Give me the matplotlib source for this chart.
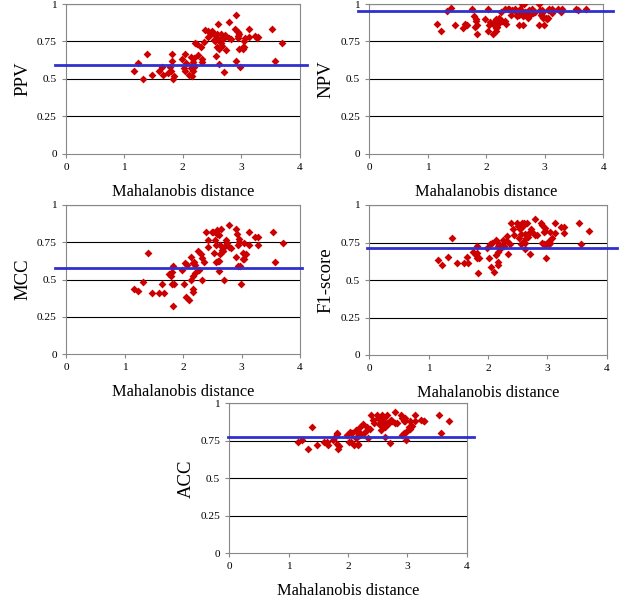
import numpy as np
import matplotlib.pyplot as plt

plt.rcParams["font.family"] = ["Liberation Serif", "DejaVu Serif"]

# Mahalanobis distance per sample (shared by all panels)
dist = [1.16, 1.225, 1.32, 1.396, 1.47, 1.595, 1.64, 1.67, 1.755, 1.79,
        1.807, 1.823, 1.835, 1.846, 1.82, 1.983, 2.023, 2.034, 2.046, 2.063,
        2.108, 2.137, 2.14, 2.165, 2.168, 2.17, 2.19, 2.21, 2.2, 2.175,
        2.251, 2.268, 2.313, 2.325, 2.33, 2.365, 2.387, 2.427, 2.433, 2.49,
        2.507, 2.53, 2.547, 2.558, 2.564, 2.587, 2.59, 2.581, 2.62, 2.621,
        2.608, 2.65, 2.64, 2.66, 2.68, 2.70, 2.63, 2.707, 2.73, 2.746,
        2.786, 2.79, 2.826, 2.9, 2.917, 2.906, 2.94, 2.946, 2.96, 2.955,
        2.97, 2.985, 3.026, 3.03, 3.047, 3.05, 3.07, 3.127, 3.13, 3.23,
        3.288, 3.276, 3.533, 3.573, 3.704]

ppv = [0.55, 0.607, 0.502, 0.669, 0.525, 0.555, 0.577, 0.525, 0.538, 0.58,
       0.55, 0.669, 0.50, 0.522, 0.622, 0.633, 0.571, 0.669, 0.555, 0.605,
       0.526, 0.649, 0.575, 0.52, 0.555, 0.613, 0.582, 0.742, 0.64, 0.60,
       0.733, 0.66, 0.711, 0.615, 0.633, 0.746, 0.826, 0.822, 0.778, 0.80,
       0.82, 0.76, 0.79, 0.75, 0.654, 0.77, 0.711, 0.80, 0.70, 0.60,
       0.87, 0.80, 0.75, 0.74, 0.72, 0.77, 0.76, 0.545, 0.79, 0.69,
       0.877, 0.77, 0.768, 0.833, 0.926, 0.622, 0.813, 0.789, 0.80, 0.77,
       0.70, 0.582, 0.711, 0.70, 0.716, 0.751, 0.77, 0.833, 0.778, 0.789,
       0.78, 0.775, 0.833, 0.618, 0.737]

npv = [0.867, 0.822, 0.955, 0.971, 0.86, 0.842, 0.87, 0.86, 0.964, 0.92,
       0.85, 0.89, 0.80, 0.86, 0.90, 0.90, 0.82, 0.964, 0.86, 0.88,
       0.80, 0.88, 0.86, 0.82, 0.84, 0.90, 0.88, 0.91, 0.87, 0.85,
       0.95, 0.89, 0.97, 0.89, 0.87, 0.97, 0.97, 0.93, 0.96, 0.97,
       0.95, 0.92, 0.94, 0.93, 0.86, 0.96, 0.94, 0.97, 0.92, 0.86,
       1.0, 1.0, 0.93, 0.95, 0.94, 0.95, 0.94, 0.91, 0.96, 0.93,
       0.97, 0.94, 0.95, 1.0, 0.96, 0.86, 0.93, 0.92, 0.96, 0.94,
       0.91, 0.86, 0.91, 0.90, 0.91, 0.96, 0.97, 0.97, 0.94, 0.97,
       0.97, 0.95, 0.97, 0.96, 0.97]

mcc = [0.44, 0.424, 0.486, 0.681, 0.41, 0.41, 0.471, 0.41, 0.538, 0.525,
       0.471, 0.591, 0.321, 0.471, 0.55, 0.562, 0.471, 0.614, 0.386, 0.597,
       0.364, 0.654, 0.50, 0.437, 0.417, 0.609, 0.62, 0.60, 0.542, 0.525,
       0.692, 0.564, 0.67, 0.645, 0.50, 0.616, 0.821, 0.768, 0.717, 0.821,
       0.821, 0.676, 0.768, 0.73, 0.616, 0.805, 0.625, 0.832, 0.625, 0.56,
       0.80, 0.836, 0.67, 0.70, 0.69, 0.72, 0.73, 0.50, 0.768, 0.744,
       0.866, 0.72, 0.71, 0.836, 0.805, 0.654, 0.73, 0.589, 0.77, 0.75,
       0.589, 0.473, 0.676, 0.636, 0.638, 0.744, 0.672, 0.821, 0.731, 0.784,
       0.784, 0.731, 0.821, 0.619, 0.747]

f1 = [0.631, 0.602, 0.656, 0.782, 0.613, 0.611, 0.651, 0.613, 0.684, 0.667,
      0.65, 0.727, 0.549, 0.65, 0.68, 0.711, 0.649, 0.738, 0.584, 0.744,
      0.553, 0.766, 0.67, 0.60, 0.62, 0.73, 0.74, 0.72, 0.71, 0.69,
      0.77, 0.73, 0.793, 0.76, 0.673, 0.742, 0.878, 0.84, 0.80, 0.878,
      0.86, 0.78, 0.84, 0.81, 0.74, 0.86, 0.755, 0.88, 0.75, 0.704,
      0.88, 0.88, 0.78, 0.80, 0.79, 0.82, 0.81, 0.671, 0.84, 0.82,
      0.904, 0.80, 0.80, 0.88, 0.87, 0.744, 0.82, 0.738, 0.85, 0.83,
      0.74, 0.649, 0.76, 0.742, 0.75, 0.82, 0.78, 0.878, 0.816, 0.851,
      0.851, 0.816, 0.878, 0.74, 0.827]

acc = [0.74, 0.757, 0.697, 0.84, 0.72, 0.74, 0.745, 0.72, 0.757, 0.78,
       0.73, 0.80, 0.697, 0.715, 0.795, 0.79, 0.745, 0.81, 0.74, 0.80,
       0.725, 0.82, 0.77, 0.72, 0.73, 0.80, 0.81, 0.84, 0.79, 0.78,
       0.86, 0.80, 0.84, 0.82, 0.77, 0.83, 0.924, 0.89, 0.87, 0.92,
       0.90, 0.86, 0.89, 0.87, 0.82, 0.90, 0.84, 0.92, 0.84, 0.773,
       0.90, 0.92, 0.86, 0.87, 0.86, 0.88, 0.87, 0.735, 0.89, 0.88,
       0.942, 0.87, 0.87, 0.92, 0.90, 0.79, 0.88, 0.80, 0.90, 0.88,
       0.81, 0.757, 0.84, 0.83, 0.83, 0.88, 0.85, 0.924, 0.88, 0.89,
       0.885, 0.88, 0.924, 0.80, 0.88]

# mean value (blue line) per metric
means = {"PPV": 0.594, "NPV": 0.951, "MCC": 0.578, "F1-score": 0.711, "ACC": 0.773}

W, H = 624, 603
fig = plt.figure(figsize=(W / 100, H / 100), dpi=100)

# axes boxes in pixels: left, right, top, bottom ; plus blue line extent in axes fraction
panels = [
    ("PPV", ppv, (66, 299.5, 4, 154), (-0.047, 1.032)),
    ("NPV", npv, (369.3, 603.3, 4, 154), (-0.05, 1.04)),
    ("MCC", mcc, (66, 300, 205, 354.3), (-0.047, 1.009)),
    ("F1-score", f1, (369.3, 606.7, 205, 355), (-0.01, 1.045)),
    ("ACC", acc, (229.3, 466.7, 403.3, 553.3), (-0.005, 1.03)),
]

for name, vals, (l, r, t, b), (x0, x1) in panels:
    ax = fig.add_axes([l / W, (H - b) / H, (r - l) / W, (b - t) / H])
    ax.set_xlim(0, 4)
    ax.set_ylim(0, 1)
    ax.set_xticks([0, 1, 2, 3, 4])
    ax.set_yticks([0, 0.25, 0.5, 0.75, 1])
    ax.set_yticklabels(["0", "0.25", "0.5", "0.75", "1"])
    for y in [0.25, 0.5, 0.75, 1.0]:
        ax.axhline(y, color="black", lw=0.8, zorder=1)
    ax.scatter(dist, vals, marker="D", s=16, color="#cc0000", lw=0, zorder=3)
    ax.plot([x0, x1], [means[name]] * 2, color="#3030d0", lw=2,
            transform=ax.get_yaxis_transform(), clip_on=False, zorder=4)
    for sp in ax.spines.values():
        sp.set_color("#888888")
        sp.set_linewidth(0.8)
    ax.tick_params(direction="out", length=3, width=0.8, color="#888888",
                   labelsize=8.2, pad=3.5)
    ax.set_ylabel(name, fontsize=13.5, labelpad=4)
    ax.set_xlabel("Mahalanobis distance", fontsize=11.8, labelpad=8.5)

fig.savefig("out.png", dpi=100)
